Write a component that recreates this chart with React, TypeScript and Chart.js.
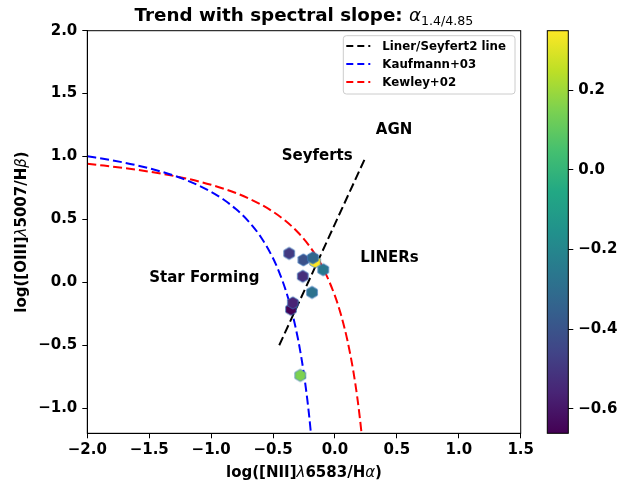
import React, { useEffect, useRef } from "react";
import { Chart, registerables } from "chart.js";
Chart.register(...registerables);

// ---- data ----
const pointX = [-0.37, -0.255, -0.16, -0.178, -0.095, -0.26, -0.185, -0.355, -0.34, -0.28];
const pointY = [0.23, 0.178, 0.163, 0.195, 0.10, 0.048, -0.08, -0.215, -0.163, -0.74];
const slopeValues = [-0.49, -0.41, 0.349, -0.32, -0.26, -0.53, -0.28, -0.661, -0.56, 0.15];

const kauffX = [-2.0, -1.8, -1.6, -1.4, -1.2, -1.0, -0.9, -0.8, -0.7, -0.6, -0.5, -0.45, -0.4, -0.35, -0.3, -0.27, -0.25, -0.23, -0.21, -0.194];
const kauffY = [1.002, 0.97, 0.93, 0.879, 0.812, 0.719, 0.658, 0.582, 0.487, 0.362, 0.191, 0.08, -0.056, -0.225, -0.443, -0.606, -0.733, -0.879, -1.046, -1.2];

const kewleyX = [-2.0, -1.6, -1.2, -1.0, -0.8, -0.6, -0.5, -0.4, -0.3, -0.2, -0.1, 0.0, 0.05, 0.1, 0.15, 0.18, 0.2, 0.215];
const kewleyY = [0.943, 0.895, 0.825, 0.775, 0.71, 0.62, 0.561, 0.489, 0.398, 0.28, 0.12, -0.108, -0.262, -0.459, -0.716, -0.913, -1.069, -1.202];

const linerX = [-0.45, 0.25];
const linerY = [-0.5, 1.0];

const xTicks = [-2.0, -1.5, -1.0, -0.5, 0.0, 0.5, 1.0, 1.5];
const yTicks = [-1.0, -0.5, 0.0, 0.5, 1.0, 1.5, 2.0];
const cbTicks = [-0.6, -0.4, -0.2, 0.0, 0.2];

const regionLabels = ["AGN", "Seyferts", "LINERs", "Star Forming"];
const regionX = [0.33, -0.43, 0.205, -1.5];
const regionY = [1.18, 0.975, 0.16, 0.0];

const legendLabels = ["Liner/Seyfert2 line", "Kaufmann+03", "Kewley+02"];
const legendColors = ["#000000", "#0000ff", "#ff0000"];

// ---- helpers ----
const VIRIDIS = ["#440154", "#482475", "#414487", "#355f8d", "#2a788e", "#21918c", "#22a884", "#44bf70", "#7ad151", "#bddf26", "#fde725"];
function hexToRgb(h: string) {
  return [parseInt(h.slice(1, 3), 16), parseInt(h.slice(3, 5), 16), parseInt(h.slice(5, 7), 16)];
}
function viridis(t: number) {
  t = Math.max(0, Math.min(1, t));
  const p = t * (VIRIDIS.length - 1);
  const i = Math.min(VIRIDIS.length - 2, Math.floor(p));
  const f = p - i;
  const a = hexToRgb(VIRIDIS[i]), b = hexToRgb(VIRIDIS[i + 1]);
  const c = a.map((v, k) => Math.round(v + (b[k] - v) * f));
  return `rgb(${c[0]},${c[1]},${c[2]})`;
}
function hexImage(color: string) {
  const c = document.createElement("canvas");
  c.width = 16; c.height = 16;
  const g = c.getContext("2d")!;
  g.beginPath();
  const r = 6.1;
  for (let i = 0; i < 6; i++) {
    const ang = -Math.PI / 2 + (i * Math.PI) / 3;
    const x = 8 + r * Math.cos(ang), y = 8 + r * Math.sin(ang);
    if (i === 0) g.moveTo(x, y); else g.lineTo(x, y);
  }
  g.closePath();
  g.fillStyle = color;
  g.fill();
  g.strokeStyle = "rgba(60,120,190,0.75)";
  g.lineWidth = 1;
  g.stroke();
  return c;
}
const FAM = '"DejaVu Sans"';
const B = (s: number) => `bold ${s}px ${FAM}`;
const IT = (s: number) => `oblique ${s}px ${FAM}`;
const R = (s: number) => `${s}px ${FAM}`;
type Seg = { t: string; f: string; dy?: number };
function drawRich(ctx: CanvasRenderingContext2D, segs: Seg[], x: number, y: number, align: "left" | "center") {
  let w = 0;
  for (const s of segs) { ctx.font = s.f; w += ctx.measureText(s.t).width; }
  let cx = align === "center" ? x - w / 2 : x;
  ctx.textAlign = "left";
  ctx.textBaseline = "alphabetic";
  for (const s of segs) {
    ctx.font = s.f;
    ctx.fillText(s.t, cx, y + (s.dy || 0));
    cx += ctx.measureText(s.t).width;
  }
}
const fmt = (v: number) => (v < 0 ? "\u2212" : "") + Math.abs(v).toFixed(1);

export default function App() {
  const mainRef = useRef<HTMLCanvasElement>(null);
  const cbRef = useRef<HTMLCanvasElement>(null);

  useEffect(() => {
    const vmin = Math.min(...slopeValues);
    const vmax = Math.max(...slopeValues);
    const norm = (v: number) => (v - vmin) / (vmax - vmin);
    const images = slopeValues.map((v) => hexImage(viridis(norm(v))));

    const decoPlugin = {
      id: "deco",
      afterDraw(chart: any) {
        const { ctx, chartArea: a, scales } = chart;
        ctx.save();
        // frame
        ctx.strokeStyle = "#000";
        ctx.lineWidth = 1;
        ctx.strokeRect(a.left, a.top, a.right - a.left, a.bottom - a.top);
        // region annotations
        ctx.fillStyle = "#000";
        ctx.font = B(15);
        ctx.textAlign = "left";
        ctx.textBaseline = "alphabetic";
        regionLabels.forEach((s, i) => {
          ctx.fillText(s, scales.x.getPixelForValue(regionX[i]), scales.y.getPixelForValue(regionY[i]));
        });
        // legend
        const bl = a.right - 177.4, br = a.right - 5.7, bt = a.top + 5, bb = a.top + 63.3;
        ctx.beginPath();
        (ctx as any).roundRect(bl, bt, br - bl, bb - bt, 3);
        ctx.fillStyle = "rgba(255,255,255,0.85)";
        ctx.fill();
        ctx.strokeStyle = "#cccccc";
        ctx.lineWidth = 1;
        ctx.stroke();
        legendLabels.forEach((s, i) => {
          const by = bt + 14.3 + i * 18;
          ctx.strokeStyle = legendColors[i];
          ctx.lineWidth = 2;
          ctx.setLineDash([7, 4]);
          ctx.beginPath();
          ctx.moveTo(bl + 3, by - 4);
          ctx.lineTo(bl + 27, by - 4);
          ctx.stroke();
          ctx.setLineDash([]);
          ctx.fillStyle = "#000";
          ctx.font = B(11.8);
          ctx.fillText(s, bl + 39, by);
        });
        // title
        ctx.fillStyle = "#000";
        const cxm = (a.left + a.right) / 2;
        drawRich(ctx, [
          { t: "Trend with spectral slope: ", f: B(18.3) },
          { t: "\u03b1", f: IT(18.3) },
          { t: "1.4/4.85", f: R(12.6), dy: 3.8 },
        ], cxm, 21, "center");
        // x title
        drawRich(ctx, [
          { t: "log([NII]", f: B(15) },
          { t: "\u03bb", f: IT(15) },
          { t: "6583/H", f: B(15) },
          { t: "\u03b1", f: IT(15) },
          { t: ")", f: B(15) },
        ], cxm, 477, "center");
        // y title
        ctx.save();
        ctx.translate(26, (a.top + a.bottom) / 2);
        ctx.rotate(-Math.PI / 2);
        drawRich(ctx, [
          { t: "log([OIII]", f: B(15) },
          { t: "\u03bb", f: IT(15) },
          { t: "5007/H", f: B(15) },
          { t: "\u03b2", f: IT(15) },
          { t: ")", f: B(15) },
        ], 0, 0, "center");
        ctx.restore();
        ctx.restore();
      },
    };

    const tickFont = { family: FAM, size: 15, weight: "bold" as const };

    const main = new Chart(mainRef.current!, {
      type: "scatter",
      data: {
        datasets: [
          {
            label: "points",
            data: pointX.map((x, i) => ({ x, y: pointY[i] })),
            pointStyle: (c: any) => images[c.dataIndex] as any,
            pointRadius: 6,
            order: 0,
          } as any,
          {
            label: legendLabels[0],
            data: linerX.map((x, i) => ({ x, y: linerY[i] })),
            showLine: true,
            borderColor: legendColors[0],
            borderWidth: 2,
            borderDash: [9, 4],
            pointRadius: 0,
            order: 1,
          },
          {
            label: legendLabels[1],
            data: kauffX.map((x, i) => ({ x, y: kauffY[i] })),
            showLine: true,
            borderColor: legendColors[1],
            borderWidth: 2,
            borderDash: [9, 4],
            pointRadius: 0,
            cubicInterpolationMode: "monotone",
            order: 2,
          },
          {
            label: legendLabels[2],
            data: kewleyX.map((x, i) => ({ x, y: kewleyY[i] })),
            showLine: true,
            borderColor: legendColors[2],
            borderWidth: 2,
            borderDash: [9, 4],
            pointRadius: 0,
            cubicInterpolationMode: "monotone",
            order: 3,
          },
        ],
      },
      options: {
        responsive: false,
        animation: false,
        events: [],
        layout: { padding: { top: 30.7, left: 0, right: 109.3, bottom: 0 } },
        plugins: { legend: { display: false }, tooltip: { enabled: false }, title: { display: false } },
        scales: {
          x: {
            type: "linear",
            min: -2.0,
            max: 1.5,
            afterBuildTicks: (s: any) => { s.ticks = xTicks.map((v) => ({ value: v })); },
            afterFit: (s: any) => { s.height = 52.7; },
            grid: { drawOnChartArea: false, drawTicks: true, tickLength: 5, tickColor: "#000", tickWidth: 1 },
            border: { display: true, color: "#000", width: 1 },
            ticks: { color: "#000", font: tickFont, padding: 3, autoSkip: false, maxRotation: 0, callback: (v: any) => fmt(Number(v)) },
          },
          y: {
            type: "linear",
            min: -1.2,
            max: 2.0,
            afterBuildTicks: (s: any) => { s.ticks = yTicks.map((v) => ({ value: v })); },
            afterFit: (s: any) => { s.width = 87.3; },
            grid: { drawOnChartArea: false, drawTicks: true, tickLength: 5, tickColor: "#000", tickWidth: 1 },
            border: { display: true, color: "#000", width: 1 },
            ticks: { color: "#000", font: tickFont, padding: 5, autoSkip: false, callback: (v: any) => fmt(Number(v)) },
          },
        },
      },
      plugins: [decoPlugin],
    } as any);

    const cbPlugin = {
      id: "cbfill",
      beforeDatasetsDraw(chart: any) {
        const { ctx, chartArea: a } = chart;
        const g = ctx.createLinearGradient(0, a.bottom, 0, a.top);
        VIRIDIS.forEach((c, i) => g.addColorStop(i / (VIRIDIS.length - 1), c));
        ctx.save();
        ctx.fillStyle = g;
        ctx.fillRect(a.left, a.top, a.right - a.left, a.bottom - a.top);
        ctx.strokeStyle = "#000";
        ctx.lineWidth = 1;
        ctx.strokeRect(a.left, a.top, a.right - a.left, a.bottom - a.top);
        ctx.restore();
      },
    };

    const cb = new Chart(cbRef.current!, {
      type: "scatter",
      data: { datasets: [{ data: [] }] },
      options: {
        responsive: false,
        animation: false,
        events: [],
        layout: { padding: { top: 30.7, left: 17.3, right: 0, bottom: 52.7 } },
        plugins: { legend: { display: false }, tooltip: { enabled: false } },
        scales: {
          x: { display: false, min: 0, max: 1 },
          y: {
            type: "linear",
            position: "right",
            min: vmin,
            max: vmax,
            afterBuildTicks: (s: any) => { s.ticks = cbTicks.map((v) => ({ value: v })); },
            afterFit: (s: any) => { s.width = 100 - 38.3; },
            grid: { drawOnChartArea: false, drawTicks: true, tickLength: 5, tickColor: "#000", tickWidth: 1 },
            border: { display: false },
            ticks: { color: "#000", font: tickFont, padding: 5, autoSkip: false, callback: (v: any) => fmt(Number(v)) },
          },
        },
      },
      plugins: [cbPlugin],
    } as any);

    return () => { main.destroy(); cb.destroy(); };
  }, []);

  return (
    <div style={{ position: "fixed", left: 0, top: 0, width: 630, height: 486, background: "#fff" }}>
      <canvas ref={mainRef} width={630} height={486} style={{ position: "absolute", left: 0, top: 0, width: 630, height: 486 }} />
      <canvas ref={cbRef} width={100} height={486} style={{ position: "absolute", left: 530, top: 0, width: 100, height: 486 }} />
    </div>
  );
}
